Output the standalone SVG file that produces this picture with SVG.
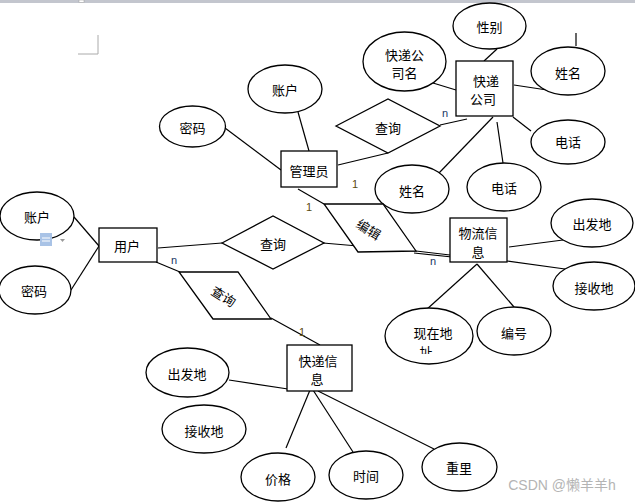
<svg xmlns="http://www.w3.org/2000/svg" width="635" height="503" viewBox="0 0 635 503">
<style>
.s{fill:#fff;stroke:#000;stroke-width:1.3}
.l{fill:none;stroke:#000;stroke-width:1.2}
.t{font-family:"Noto Sans CJK SC","Liberation Sans",sans-serif;font-size:13px;fill:#000;text-anchor:middle;dominant-baseline:central}
.c1{font-family:"Liberation Sans",sans-serif;font-size:11px;fill:#5a4a10;text-anchor:middle}
.cn{font-family:"Liberation Sans",sans-serif;font-size:11px;fill:#203864;text-anchor:middle}
</style>
<defs><clipPath id="clipZ"><rect x="380" y="300" width="100" height="54"/></clipPath></defs>
<rect x="0" y="0" width="635" height="503" fill="#fff"/>
<rect x="0" y="0" width="635" height="3" fill="#c3c6ce"/>
<rect x="79" y="0" width="5" height="2.5" fill="#fff" stroke="#999" stroke-width="0.5"/>
<path d="M98 35V54H78" fill="none" stroke="#aaa" stroke-width="1"/>
<g id="connectors">
<path class="l" d="M433 83L456 90"/>
<path class="l" d="M484 61L497 49"/>
<path class="l" d="M514 85L547 90"/>
<path class="l" d="M513 117L531 131"/>
<path class="l" d="M497 122L503 163"/>
<path class="l" d="M493 117L439 173"/>
<path class="l" d="M576 33V46"/>
<path class="l" d="M440 125L467 119"/>
<path class="l" d="M388 153L338 165"/>
<path class="l" d="M298 112L309 151"/>
<path class="l" d="M225 128L281 170"/>
<path class="l" d="M298 189L324 204"/>
<path class="l" d="M323 243L416 251L450 255"/>
<path class="l" d="M414 253L452 257"/>
<path class="l" d="M509 247L563 240"/>
<path class="l" d="M507 261L565 269"/>
<path class="l" d="M477 264L426 310"/>
<path class="l" d="M477 264L514 307"/>
<path class="l" d="M74 217L99 246"/>
<path class="l" d="M71 290L99 246"/>
<path class="l" d="M158 248L222 243"/>
<path class="l" d="M156 262L180 272"/>
<path class="l" d="M271 318L320 345"/>
<path class="l" d="M229 380L288 389"/>
<path class="l" d="M310 390L286 448"/>
<path class="l" d="M313 390L353 452"/>
<path class="l" d="M318 391L434 449"/>
</g>
<g id="n-xb"><ellipse class="s" cx="489.5" cy="26" rx="36.5" ry="23"/><text class="t" x="489.5" y="26">性别</text></g>
<g id="n-gsm"><ellipse class="s" cx="404.5" cy="61.5" rx="41.5" ry="29.5"/><text class="t" x="404.5" y="54">快递公</text><text class="t" x="404.5" y="72">司名</text></g>
<g id="n-kdgs"><rect class="s" x="456" y="61" width="57" height="55"/><text class="t" x="486" y="80">快递</text><text class="t" x="483" y="98">公司</text></g>
<g id="n-xm1"><ellipse class="s" cx="568" cy="71" rx="37" ry="24"/><text class="t" x="568" y="72">姓名</text></g>
<g id="n-dh1"><ellipse class="s" cx="568" cy="142" rx="37" ry="22"/><text class="t" x="568" y="141">电话</text></g>
<g id="n-cx1"><polygon class="s" points="336,126 388,99 440,126 388,153"/><text class="t" x="388" y="127">查询</text></g>
<text class="cn" x="445" y="117">n</text>
<g id="n-gly"><rect class="s" x="281" y="151" width="56" height="36"/><text class="t" x="309" y="170">管理员</text></g>
<g id="n-zh1"><ellipse class="s" cx="285" cy="89" rx="37" ry="24"/><text class="t" x="285" y="89">账户</text></g>
<g id="n-mm1"><ellipse class="s" cx="192.5" cy="126.5" rx="33" ry="20.5"/><text class="t" x="192.5" y="127">密码</text></g>
<text class="c1" x="355" y="188">1</text>
<g id="n-xm2"><ellipse class="s" cx="412" cy="189" rx="37" ry="24"/><text class="t" x="412" y="190">姓名</text></g>
<g id="n-dh2"><ellipse class="s" cx="504" cy="187" rx="37" ry="24"/><text class="t" x="504" y="187">电话</text></g>
<text class="c1" x="309" y="211">1</text>
<g id="n-bj"><polygon class="s" points="324,204 383,204 416,251 358,252"/><text class="t" x="369" y="229" transform="rotate(32 369 229)">编辑</text></g>
<g id="n-wlxx"><rect class="s" x="450" y="218" width="57" height="44"/><text class="t" x="478" y="232">物流信</text><text class="t" x="478" y="251">息</text></g>
<text class="cn" x="433" y="265">n</text>
<g id="n-cfd1"><ellipse class="s" cx="592" cy="223" rx="41" ry="24"/><text class="t" x="592" y="223">出发地</text></g>
<g id="n-jsd1"><ellipse class="s" cx="594" cy="286" rx="41" ry="24"/><text class="t" x="594" y="287">接收地</text></g>
<g id="n-xzdz"><ellipse class="s" cx="429" cy="336" rx="44" ry="28"/><text class="t" x="433" y="332">现在地</text><text class="t" x="426" y="351" clip-path="url(#clipZ)">址</text></g>
<g id="n-bh"><ellipse class="s" cx="514" cy="331" rx="37" ry="24"/><text class="t" x="514" y="332">编号</text></g>
<g id="n-yh"><rect class="s" x="99" y="228" width="58" height="34"/><text class="t" x="127" y="245">用户</text></g>
<g id="n-zh2"><ellipse class="s" cx="37" cy="216" rx="37" ry="24"/><text class="t" x="37" y="216">账户</text></g>
<g id="n-mm2"><ellipse class="s" cx="35" cy="290" rx="36" ry="24"/><text class="t" x="34" y="290">密码</text></g>
<g id="icon"><rect x="40" y="233" width="12" height="13" fill="#a9c3e6"/><path d="M42 238h8M42 241h8" stroke="#fff" stroke-width="1"/><path d="M60 239h5l-2.5 3z" fill="#999"/></g>
<g id="n-cx2"><polygon class="s" points="222,243 273,216 324,243 273,269"/><text class="t" x="273" y="243">查询</text></g>
<text class="cn" x="174" y="264">n</text>
<g id="n-cx3"><polygon class="s" points="179,272 238,272 271,319 213,319"/><text class="t" x="224" y="296" transform="rotate(32 224 296)">查询</text></g>
<text class="c1" x="302" y="336">1</text>
<g id="n-kdxx"><rect class="s" x="287" y="345" width="65" height="46"/><text class="t" x="318" y="360">快递信</text><text class="t" x="317" y="378">息</text></g>
<g id="n-cfd2"><ellipse class="s" cx="187.5" cy="372.5" rx="41.5" ry="24.5"/><text class="t" x="187" y="373">出发地</text></g>
<g id="n-jsd2"><ellipse class="s" cx="204" cy="429" rx="42" ry="24"/><text class="t" x="204" y="430">接收地</text></g>
<g id="n-jg"><ellipse class="s" cx="278" cy="477" rx="37" ry="24"/><text class="t" x="278" y="478">价格</text></g>
<g id="n-sj"><ellipse class="s" cx="366" cy="475" rx="37" ry="24"/><text class="t" x="366" y="475">时间</text></g>
<g id="n-zl"><ellipse class="s" cx="459.5" cy="467" rx="37.5" ry="24"/><text class="t" x="459" y="467">重里</text></g>
<text x="562" y="490" font-family="'Liberation Sans','Noto Sans CJK SC',sans-serif" font-size="14" fill="#b4b4b4" text-anchor="middle">CSDN @懒羊羊h</text>
</svg>
